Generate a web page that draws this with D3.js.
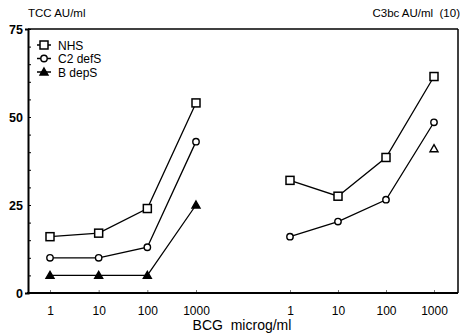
<!DOCTYPE html>
<html><head><meta charset="utf-8">
<script src="https://cdn.jsdelivr.net/npm/d3@7"></script>
<style>body{margin:0;background:#fff}svg{display:block;font-family:"Liberation Sans",Arial,sans-serif}text{white-space:pre}</style>
</head><body><svg id="c" width="465" height="336"></svg>
<script>
const doses = ["1","10","100","1000"];
const yTicks = [0,25,50,75];
const seriesNames = ["NHS","C2 defS","B depS"];
// left panel: TCC AU/ml
const tccNHS = [16,17,24,54];
const tccC2  = [10,10,13,43];
const tccB   = [5,5,5,25];
// right panel: C3bc AU/ml (x10)
const c3NHS = [32,27.5,38.5,61.5];
const c3C2  = [16,20.3,26.5,48.5];
const c3B   = [null,null,null,41];

const svg = d3.select("#c");
const L=28,R=458,T=29,B=293;
const y = d3.scaleLinear().domain([0,75]).range([B,T]);
const xL = d3.scalePoint().domain(doses).range([50,196]);
const xR = d3.scalePoint().domain(doses).range([290,434]);

// frame
svg.append("line").attr("x1",L).attr("x2",R).attr("y1",T).attr("y2",T).attr("stroke","#000").attr("stroke-width",1.3);
svg.append("line").attr("x1",R).attr("x2",R).attr("y1",T).attr("y2",B).attr("stroke","#000").attr("stroke-width",1.5);

// y axis
const ya = svg.append("g").attr("transform",`translate(${L},0)`)
  .call(d3.axisLeft(y).tickValues(d3.range(0,76,5)).tickSize(3).tickFormat(d=>yTicks.includes(d)?d:""));
ya.select(".domain").attr("stroke-width",2);
ya.selectAll(".tick line").attr("x2",3).attr("x1",0).attr("stroke-width",1);
ya.selectAll(".tick text").attr("x",-5).attr("font-size",12.5).attr("font-weight","bold").attr("font-family","Liberation Sans, Arial, sans-serif").attr("fill","#000");

// x axes
[xL,xR].forEach(sc=>{
  const g = svg.append("g").attr("transform",`translate(0,${B})`)
    .call(d3.axisBottom(sc).tickSize(-3).tickSizeOuter(0));
  g.select(".domain").remove();
  g.selectAll(".tick line").attr("stroke","#555").attr("stroke-width",0.8);
  g.selectAll(".tick text").attr("y",13).attr("font-size",12).attr("font-family","Liberation Sans, Arial, sans-serif").attr("fill","#000");
});
svg.append("line").attr("x1",L-1).attr("x2",R).attr("y1",B).attr("y2",B).attr("stroke","#000").attr("stroke-width",2);

// titles
svg.append("text").attr("x",28).attr("y",17).attr("font-size",11.5).text("TCC AU/ml");
svg.append("text").attr("x",460).attr("y",17).attr("font-size",11.5).attr("text-anchor","end").text("C3bc AU/ml  (10)");
svg.append("text").attr("x",242).attr("y",330).attr("font-size",14).attr("text-anchor","middle").text("BCG  microg/ml");

function marker(g,type,cx,cy,hollowTri){
  if(type===0) g.append("rect").attr("x",cx-4).attr("y",cy-4).attr("width",8).attr("height",8).attr("fill","#fff").attr("stroke","#000").attr("stroke-width",1.5);
  else if(type===1) g.append("circle").attr("cx",cx).attr("cy",cy).attr("r",3.2).attr("fill","#fff").attr("stroke","#000").attr("stroke-width",1.4);
  else g.append("path").attr("d",`M${cx},${cy-4}L${cx+4},${cy+3}L${cx-4},${cy+3}Z`).attr("fill",hollowTri?"#fff":"#000").attr("stroke","#000").attr("stroke-width",1.4);
}
function series(sc,vals,type,hollowTri){
  const pts = doses.map((d,i)=>({d,v:vals[i]})).filter(p=>p.v!=null);
  const line = d3.line().x(p=>sc(p.d)).y(p=>y(p.v));
  if(pts.length>1) svg.append("path").attr("d",line(pts)).attr("fill","none").attr("stroke","#000").attr("stroke-width",1.3);
  const g = svg.append("g");
  pts.forEach(p=>marker(g,type,sc(p.d),y(p.v),hollowTri));
}
series(xL,tccNHS,0); series(xL,tccC2,1); series(xL,tccB,2,false);
series(xR,c3NHS,0); series(xR,c3C2,1); series(xR,c3B,2,true);

// legend
const leg = svg.append("g");
seriesNames.forEach((n,i)=>{
  const yy = 45+i*13.5;
  leg.append("line").attr("x1",37).attr("x2",51).attr("y1",yy).attr("y2",yy).attr("stroke","#000").attr("stroke-width",1.5);
  marker(leg,i,44,yy,false);
  leg.append("text").attr("x",58).attr("y",yy+4.5).attr("font-size",12).text(n);
});
</script></body></html>
